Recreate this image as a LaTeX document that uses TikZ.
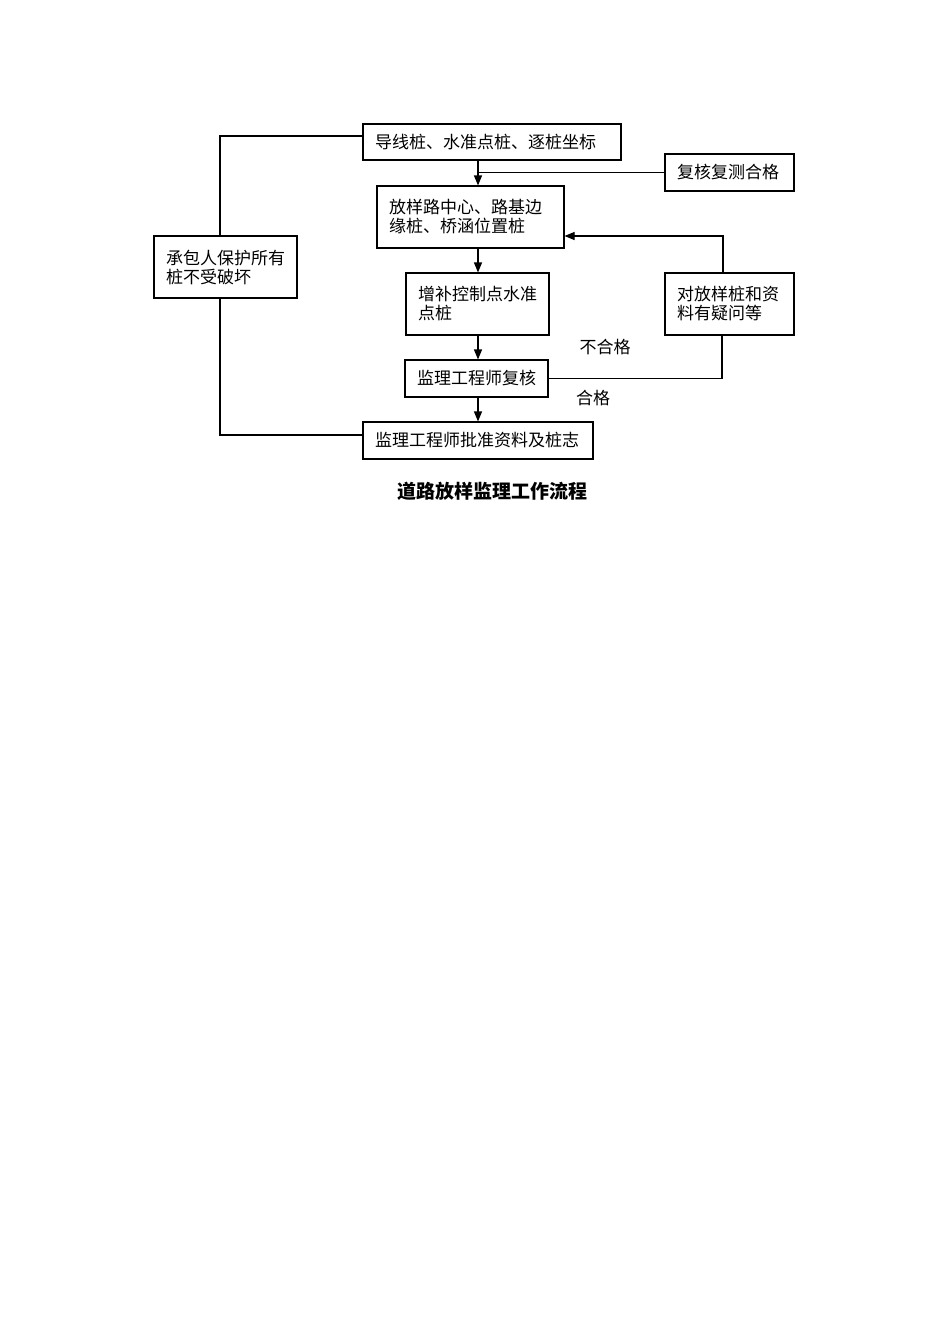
\documentclass[tikz,border=0pt]{standalone}
\usepackage{fontspec}
\setmainfont{Noto Sans CJK SC}
\usepackage{tikz}
\usetikzlibrary{shapes, arrows.meta, calc}
\tikzstyle{kuang} = [rectangle, draw=black, line width=0.55pt, inner xsep=6pt, inner ysep=0pt, align=left, font=\fontsize{8.5}{9.5}\selectfont]
\tikzstyle{lianxian} = [line width=0.55pt]
\tikzstyle{jiantou} = [lianxian, -{Triangle[length=5pt, width=4pt]}]
\tikzstyle{biaoqian} = [font=\fontsize{8.5}{9.5}\selectfont]

\begin{document}
\begin{tikzpicture}[x=0.5pt, y=-0.5pt]
    \useasboundingbox (0,0) rectangle (950,1344);

    \node (daoxian) [kuang, text width=117pt, minimum height=18pt] at (492,142) {导线桩、水准点桩、逐桩坐标};
    \node (fuhe) [kuang, text width=52.5pt, minimum height=18.5pt] at (729.5,172.5) {复核复测合格};
    \node (fangyang) [kuang, text width=81.5pt, minimum height=31pt] at (470.5,217) {放样路中心、路基边\\缘桩、桥涵位置桩};
    \node (baohu) [kuang, text width=59.5pt, minimum height=31pt] at (225.5,267) {承包人保护所有\\桩不受破坏};
    \node (zengbu) [kuang, text width=59.5pt, minimum height=31pt] at (477.5,304) {增补控制点水准\\点桩};
    \node (yiwen) [kuang, text width=52.5pt, minimum height=31pt] at (729.5,304) {对放样桩和资\\料有疑问等};
    \node (fuhejianli) [kuang, text width=59.5pt, minimum height=18.5pt] at (476.5,378.5) {监理工程师复核};
    \node (pizhun) [kuang, text width=103pt, minimum height=18.5pt] at (478,440.5) {监理工程师批准资料及桩志};

    \node (buhege) [biaoqian] at (605,347) {不合格};
    \node (hege) [biaoqian] at (593,398) {合格};
    \node (biaoti) [font=\fontsize{9.5}{11}\selectfont\bfseries] at (492,491) {道路放样监理工作流程};

    \coordinate (zhong) at (478,0);
    \coordinate (zuoshang) at (220,136);
    \coordinate (zuoxia) at (220,435);
    \coordinate (youxia) at (722,0);
    \coordinate (youshang) at (723,236);

    \draw[lianxian] (zuoshang -| daoxian.west) -- (zuoshang) -- (baohu.north -| zuoshang);
    \draw[lianxian] (baohu.south -| zuoxia) -- (zuoxia) -- (zuoxia -| pizhun.west);

    \draw[jiantou] (daoxian.south -| zhong) -- (fangyang.north -| zhong);
    \draw[lianxian] (fuhe.west) -- (fuhe.west -| zhong);
    \draw[jiantou] (fangyang.south -| zhong) -- (zengbu.north -| zhong);
    \draw[jiantou] (zengbu.south -| zhong) -- (fuhejianli.north -| zhong);
    \draw[jiantou] (fuhejianli.south -| zhong) -- (pizhun.north -| zhong);

    \draw[lianxian] (fuhejianli.east) -- (fuhejianli.east -| youxia) -- (yiwen.south -| youxia);
    \draw[jiantou] (yiwen.north -| youshang) -- (youshang) -- (youshang -| fangyang.east);
\end{tikzpicture}
\end{document}
